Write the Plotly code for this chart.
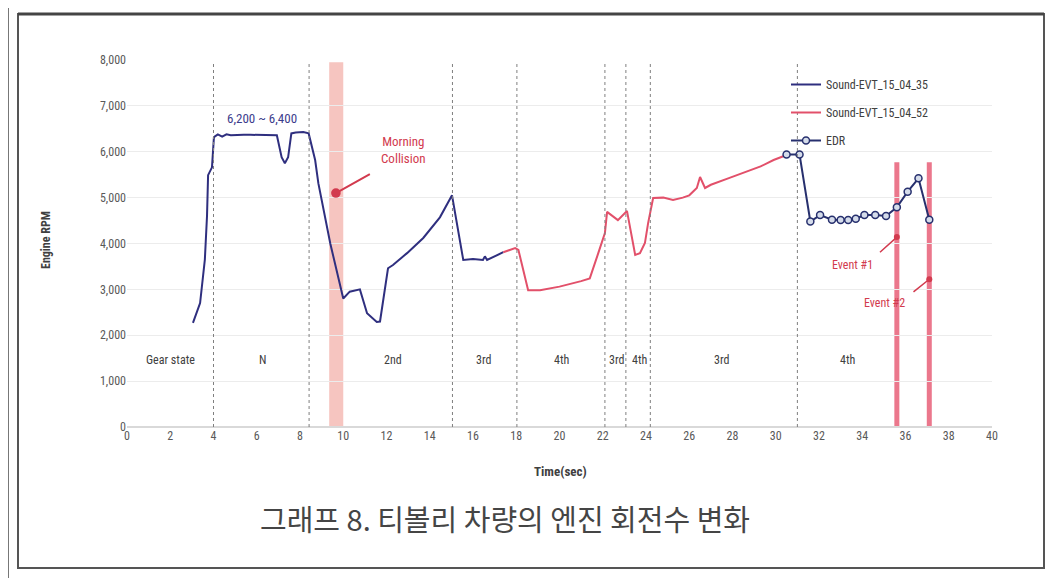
import plotly.graph_objects as go

# ---------------- data ----------------
blue_t = [3.05, 3.38, 3.6, 3.7, 3.75, 3.93, 4.02, 4.2, 4.4, 4.6, 4.8, 5.1, 5.4, 5.7, 6.0, 6.3, 6.6, 6.93, 7.15, 7.3, 7.45, 7.6, 7.8, 8.15, 8.4,
          8.55, 8.7, 8.85, 9.4, 10.0, 10.3, 10.77, 11.1, 11.55, 11.7, 12.07, 12.3, 12.95, 13.7, 14.47, 15.03,
          15.55, 16.0, 16.46, 16.55, 16.65, 17.0, 17.4]
blue_rpm = [2270, 2700, 3650, 4600, 5490, 5660, 6320, 6380, 6330, 6380, 6360, 6370, 6370, 6370, 6370, 6370, 6370, 6360, 5880, 5750, 5880, 6400, 6420, 6430, 6400,
            6100, 5820, 5310, 4000, 2800, 2950, 3000, 2480, 2290, 2300, 3460, 3530, 3790, 4120, 4570, 5050,
            3640, 3660, 3640, 3720, 3640, 3720, 3810]

red_t = [17.4, 17.95, 18.1, 18.55, 19.1, 20.0, 21.0, 21.4, 21.8, 22.1, 22.2, 22.7, 23.12, 23.5, 23.72, 23.95, 24.1, 24.33, 24.8, 25.25, 25.7, 26.0,
         26.35, 26.5, 26.73, 27.0, 27.8, 28.6, 29.3, 29.9, 30.5]
red_rpm = [3810, 3900, 3860, 2980, 2980, 3060, 3180, 3240, 3800, 4230, 4690, 4510, 4710, 3750, 3790, 4010, 4450, 4990, 5000, 4950, 5000, 5050,
           5210, 5450, 5210, 5280, 5420, 5560, 5680, 5820, 5930]

edr_t = [30.5, 31.1, 31.6, 32.05, 32.6, 33.0, 33.35, 33.7, 34.1, 34.6, 35.1, 35.6, 36.1, 36.6, 37.1]
edr_rpm = [5940, 5940, 4480, 4620, 4520, 4510, 4510, 4540, 4620, 4620, 4600, 4790, 5130, 5420, 4520]

gear_lines = [4.0, 8.42, 15.05, 18.03, 22.1, 23.07, 24.2, 31.0]
gear_labels = ["Gear state", "N", "2nd", "3rd", "4th", "3rd", "4th", "3rd", "4th"]
gear_label_t = [2.0, 6.25, 12.3, 16.5, 20.1, 22.62, 23.68, 27.5, 33.3]
gear_label_rpm = 1450

collision_band = [9.35, 10.0]
event_t = [35.6, 37.1]
event_top = 5770

x_ticks = list(range(0, 41, 2))
y_ticks = list(range(0, 8001, 1000))

# ---------------- layout helpers ----------------
OFF = 8  # page body margin
W, H = 1061 - OFF, 580 - OFF
L, R, T, B = 127 - OFF, 992 - OFF, 60 - OFF, 427 - OFF


def px(xp):
    return (xp - OFF - L) / (R - L)


def py(yp):
    return (B - (yp - OFF)) / (B - T)


NARROW = "Liberation Sans Narrow, Arial Narrow, Roboto Condensed, Arial, sans-serif"
NAVY = "#2f2f7f"
RED = "#e2506a"

fig = go.Figure()

fig.add_trace(go.Scatter(x=blue_t, y=blue_rpm, mode="lines", name="Sound-EVT_15_04_35",
                         line=dict(color=NAVY, width=2), legendgroup="a"))
fig.add_trace(go.Scatter(x=red_t, y=red_rpm, mode="lines", name="Sound-EVT_15_04_52",
                         line=dict(color=RED, width=2), legendgroup="b"))
fig.add_trace(go.Scatter(x=edr_t, y=edr_rpm, mode="lines+markers", name="EDR",
                         line=dict(color="#27306e", width=2),
                         marker=dict(symbol="circle", size=7, color="#d5dcea",
                                     line=dict(color="#27306e", width=1.5)),
                         legendgroup="c"))

shapes = []
shapes.append(dict(type="rect", xref="x", yref="y", x0=collision_band[0], x1=collision_band[1],
                   y0=0, y1=7950, fillcolor="rgba(238,150,140,0.55)", line=dict(width=0), layer="below"))
for g in gear_lines:
    shapes.append(dict(type="line", xref="x", yref="y", x0=g, x1=g, y0=0, y1=7950,
                       line=dict(color="#7f7f7f", width=1, dash="dot")))
for e in event_t:
    shapes.append(dict(type="line", xref="x", yref="y", x0=e, x1=e, y0=0, y1=event_top,
                       line=dict(color="rgba(232,95,120,0.85)", width=5), layer="below"))
shapes.append(dict(type="rect", xref="paper", yref="paper", x0=px(18), x1=px(1044), y0=py(568), y1=py(14),
                   line=dict(color="#555555", width=2), fillcolor="rgba(0,0,0,0)"))
shapes.append(dict(type="line", xref="paper", yref="paper", x0=px(18), x1=px(1044), y0=py(14), y1=py(14),
                   line=dict(color="#444444", width=3)))
shapes.append(dict(type="line", xref="paper", yref="paper", x0=px(8.5), x1=px(8.5), y0=py(578), y1=py(8),
                   line=dict(color="#777777", width=1)))

ann = []
for lab, t in zip(gear_labels, gear_label_t):
    ann.append(dict(x=t, y=gear_label_rpm, xref="x", yref="y", text=lab, showarrow=False,
                    font=dict(family=NARROW, size=12, color="#404040")))

ann.append(dict(x=6.24, y=6730, xref="x", yref="y", text="6,200 ~ 6,400", showarrow=False,
                font=dict(family=NARROW, size=13, color="#3c3c8c")))

ann.append(dict(x=12.8, y=6030, xref="x", yref="y", text="Morning<br>Collision", showarrow=False,
                font=dict(family=NARROW, size=13, color="#d23a4e")))
ann.append(dict(x=9.66, y=5100, xref="x", yref="y", ax=11.3, ay=5530, axref="x", ayref="y",
                text="", showarrow=True, arrowhead=6, arrowsize=1.2, arrowwidth=2, arrowcolor="#d23a4e"))
ann.append(dict(x=33.55, y=3530, xref="x", yref="y", text="Event #1", showarrow=False,
                font=dict(family=NARROW, size=12, color="#d23a4e")))
ann.append(dict(x=35.6, y=4140, xref="x", yref="y", ax=34.75, ay=3780, axref="x", ayref="y",
                text="", showarrow=True, arrowhead=6, arrowsize=1.0, arrowwidth=1.5, arrowcolor="#d23a4e"))
ann.append(dict(x=35.05, y=2700, xref="x", yref="y", text="Event #2", showarrow=False,
                font=dict(family=NARROW, size=12, color="#d23a4e")))
ann.append(dict(x=37.1, y=3220, xref="x", yref="y", ax=36.3, ay=2920, axref="x", ayref="y",
                text="", showarrow=True, arrowhead=6, arrowsize=1.0, arrowwidth=1.5, arrowcolor="#d23a4e"))

ann.append(dict(x=px(37), y=py(240), xref="paper", yref="paper", text="<b>Engine RPM</b>", textangle=-90,
                showarrow=False, font=dict(family=NARROW, size=12, color="#404040")))
ann.append(dict(x=px(560), y=py(481), xref="paper", yref="paper", text="<b>Time(sec)</b>",
                showarrow=False, font=dict(family=NARROW, size=13, color="#404040")))
ann.append(dict(x=px(505), y=py(541), xref="paper", yref="paper", text="그래프 8. 티볼리 차량의 엔진 회전수 변화",
                showarrow=False, font=dict(family="Noto Sans CJK KR, sans-serif", size=29, color="#454545")))

fig.update_layout(
    width=W, height=H,
    margin=dict(l=L, r=W - R, t=T, b=H - B),
    paper_bgcolor="white", plot_bgcolor="white",
    shapes=shapes, annotations=ann,
    showlegend=True,
    legend=dict(x=px(786), y=py(70), xanchor="left", yanchor="top", bgcolor="rgba(0,0,0,0)",
                font=dict(family=NARROW, size=12, color="#404040"), itemwidth=30,
                traceorder="grouped", tracegroupgap=9),
    xaxis=dict(range=[0, 40], tickvals=x_ticks, ticktext=[str(v) for v in x_ticks],
               showgrid=False, zeroline=False, showline=False, ticks="",
               tickfont=dict(family=NARROW, size=12, color="#595959")),
    yaxis=dict(range=[0, 8000], tickvals=y_ticks, ticktext=[f"{v:,}" for v in y_ticks],
               showgrid=True, gridcolor="#ececec", gridwidth=1, zeroline=True, zerolinecolor="#d9d9d9",
               showline=False, ticks="",
               tickfont=dict(family=NARROW, size=12, color="#595959")),
)

fig.write_html("out.html")
